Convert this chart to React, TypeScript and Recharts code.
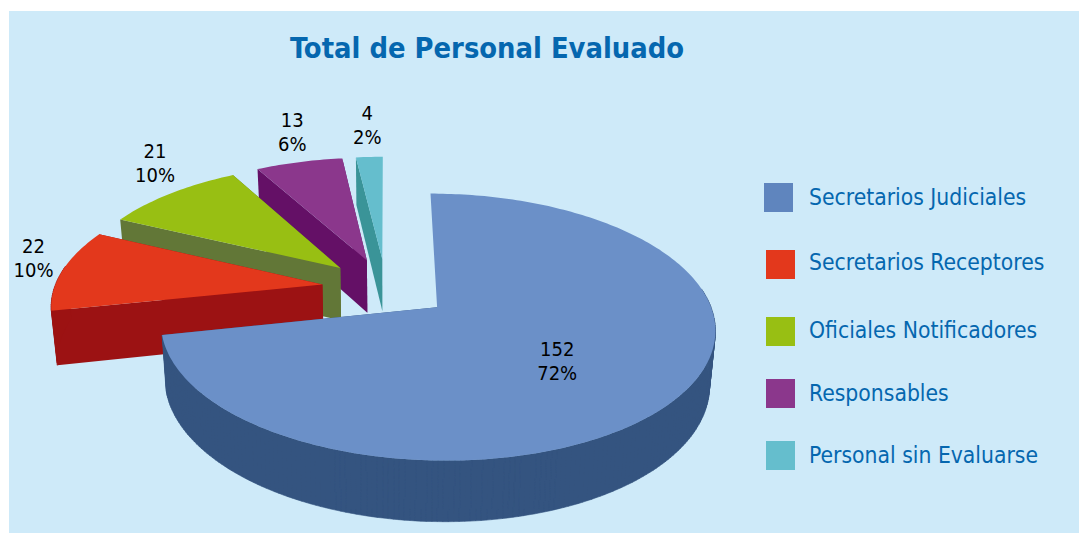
import React from 'react';
import { PieChart, Pie, Legend } from 'recharts';

const categories = ['Secretarios Judiciales', 'Secretarios Receptores', 'Oficiales Notificadores', 'Responsables', 'Personal sin Evaluarse'];
const values = [152, 22, 21, 13, 4];

const topColors = ['#6B90C8', '#E3381C', '#98BF13', '#8B378C', '#65BECD'];
const wallColors = ['#345480', '#9C1213', '#627737', '#641066', '#3A9498'];
const legendColors = ['#5F85BE', '#E3381C', '#98BF13', '#8B378C', '#65BECD'];

// label placement: distance from the slice tip, then a small nudge
const labelRadius = [0.55, 1.135, 1.31, 1.31, 1.37];
const labelNudge = [[-6, 6], [5, -10], [31, -10], [11, -4], [2, 0]];
const legendBoxX = [764, 766, 766, 766, 766];
const legendBoxY = [183, 250, 317, 379, 441];
const legendTextY = [197, 262, 330, 393, 455];

const FONT = '"DejaVu Sans Condensed", "DejaVu Sans", sans-serif';
const BLUE = '#0567AF';

// the 3D look: perspective projection of an exploded disc
const TILT = 0.466;
const PERSPECTIVE = 0.145;
const EXPLODE = 0.24;
const DEPTH = 53.5;
const SHRINK = 0.982;

// painter's order: back slices first, so the table runs counter-clockwise
const tableData = categories
  .map((name, i) => ({ name, value: values[i], fill: topColors[i], wall: wallColors[i], idx: i }))
  .reverse();

const rad = (d: number) => (d * Math.PI) / 180;

const project = (cx: number, cy: number, R: number, X: number, Y: number, low = false) => {
  const s = 1 / (1 + PERSPECTIVE * Y);
  const x = R * X * s;
  const y = -R * TILT * Y * s;
  if (!low) return [cx + x, cy + y];
  return [cx + x * SHRINK, cy + y * SHRINK + DEPTH * s];
};

const pt = (p: number[]) => `${p[0].toFixed(1)},${p[1].toFixed(1)}`;

const Slice3D = (props: any) => {
  const { cx, cy, outerRadius: R, startAngle, endAngle, midAngle, fill } = props;
  const wall = props.wall ?? props.payload?.wall;
  const a0 = 90 - startAngle;
  const a1 = 90 - endAngle;
  const mid = rad(90 - midAngle);
  const ox = EXPLODE * Math.sin(mid);
  const oy = EXPLODE * Math.cos(mid);
  const n = Math.max(2, Math.ceil(Math.abs(a1 - a0)));
  const angleAt = (k: number) => a0 + ((a1 - a0) * k) / n;
  const rimAt = (k: number, low = false) => {
    const t = rad(angleAt(k));
    return project(cx, cy, R, ox + Math.sin(t), oy + Math.cos(t), low);
  };
  const tip = project(cx, cy, R, ox, oy);
  const tipLow = project(cx, cy, R, ox, oy, true);

  // a cut face pointing straight back is seen edge-on, no wall for it
  const edgeOn = (deg: number) => Math.abs(Math.sin(rad(deg))) < 0.02;

  const quads: string[] = [];
  for (let k = 0; k < n; k++) {
    if (Math.cos(rad(angleAt(k + 0.5))) > 0.15) continue;
    quads.push(`M${pt(rimAt(k))}L${pt(rimAt(k + 1))}L${pt(rimAt(k + 1, true))}L${pt(rimAt(k, true))}Z`);
  }
  const top: string[] = [pt(tip)];
  for (let k = 0; k <= n; k++) top.push(pt(rimAt(k)));

  return (
    <g>
      {!edgeOn(a0) && <path d={`M${pt(tip)}L${pt(rimAt(0))}L${pt(rimAt(0, true))}L${pt(tipLow)}Z`} fill={wall} />}
      {!edgeOn(a1) && <path d={`M${pt(tip)}L${pt(rimAt(n))}L${pt(rimAt(n, true))}L${pt(tipLow)}Z`} fill={wall} />}
      {quads.length > 0 && <path d={quads.join('')} fill={wall} stroke={wall} strokeWidth={0.6} />}
      <path d={`M${top.join('L')}Z`} fill={fill} />
    </g>
  );
};

const SliceLabel = (props: any) => {
  const { cx, cy, outerRadius: R, midAngle, value, percent } = props;
  const idx = props.idx ?? props.payload?.idx;
  const mid = rad(90 - midAngle);
  const t = EXPLODE + labelRadius[idx];
  const [x, y] = project(cx, cy, R, t * Math.sin(mid), t * Math.cos(mid));
  const lx = x + labelNudge[idx][0];
  const ly = y + labelNudge[idx][1];
  return (
    <text x={lx} y={ly} textAnchor="middle" fontFamily={FONT} fontSize={20} fill="#000">
      <tspan x={lx} dy={-5}>{value}</tspan>
      <tspan x={lx} dy={24}>{`${Math.round(percent * 100)}%`}</tspan>
    </text>
  );
};

const LegendBlock = () => (
  <div style={{ position: 'relative', width: 1079, height: 533 }}>
    {categories.map((name, i) => (
      <React.Fragment key={name}>
        <div style={{ position: 'absolute', left: legendBoxX[i], top: legendBoxY[i], width: 29, height: 29, background: legendColors[i] }} />
        <div style={{ position: 'absolute', left: 809, top: legendTextY[i] - 16, height: 32, lineHeight: '32px', whiteSpace: 'nowrap', fontFamily: FONT, fontSize: 22.7, color: BLUE }}>
          {name}
        </div>
      </React.Fragment>
    ))}
  </div>
);

export default function App() {
  return (
    <div style={{ position: 'absolute', left: 0, top: 0, width: 1079, height: 533, background: '#fff', overflow: 'hidden' }}>
      <div style={{ position: 'absolute', left: 9, top: 11, right: 0, bottom: 0, background: '#CEEAF9' }} />
      <div style={{ position: 'absolute', left: 290, top: 28, lineHeight: '40px', whiteSpace: 'nowrap', fontFamily: FONT, fontWeight: 700, fontSize: 28.8, color: BLUE }}>
        Total de Personal Evaluado
      </div>
      <PieChart width={1079} height={533} margin={{ top: 0, right: 0, bottom: 0, left: 0 }} style={{ position: 'absolute', left: 0, top: 0 }}>
        <Pie
          data={tableData}
          dataKey="value"
          nameKey="name"
          cx={386}
          cy={288}
          outerRadius={268}
          startAngle={90}
          endAngle={450}
          stroke="none"
          shape={Slice3D}
          label={SliceLabel}
          labelLine={false}
          isAnimationActive={false}
        />
        <Legend content={LegendBlock} wrapperStyle={{ left: 0, top: 0, width: 1079, height: 533 }} />
      </PieChart>
    </div>
  );
}
